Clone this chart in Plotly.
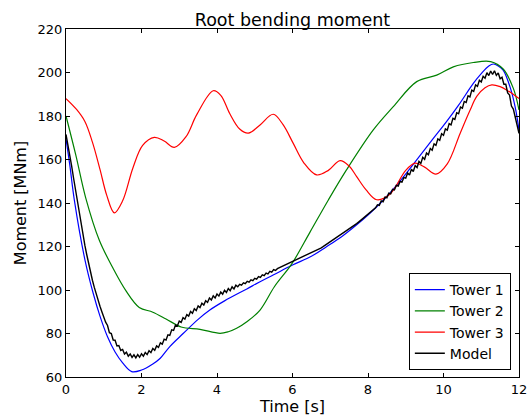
import numpy as np
import plotly.graph_objects as go

# Measured root bending moment of the three towers
t1 = [0.0, 0.1, 0.22, 0.5, 0.72, 0.9, 1.1, 1.3, 1.5, 1.74, 2.0, 2.3, 2.49, 2.75,
      3.11, 3.5, 3.81, 4.2, 4.79, 5.14, 5.5, 6.0, 6.5, 6.9, 7.3, 7.7, 8.0, 8.41, 8.8,
      9.29, 9.7, 10.08, 10.4, 10.79, 11.0, 11.2, 11.32, 11.45, 11.58, 11.76, 11.9, 12.0]
tower1 = [169.5, 157.5, 141.4, 114.0, 98.5, 88.0, 78.5, 71.5, 66.5, 62.5, 63.2, 66.0, 68.5, 74.0,
          80.1, 86.5, 90.8, 95.0, 100.5, 103.8, 107.0, 111.5, 115.5, 119.9, 124.5, 130.0, 134.5, 141.4, 149.0,
          159.8, 169.0, 177.4, 185.0, 195.0, 199.5, 203.0, 203.9, 203.0, 201.1, 193.5, 184.0, 173.6]

t2 = [0.0, 0.26, 0.52, 0.88, 1.24, 1.59, 1.94, 2.3, 2.65, 3.05, 3.55, 4.08, 4.3, 4.52, 4.8,
      5.14, 5.52, 5.98, 6.46, 6.95, 7.43, 8.14, 8.67, 9.29, 9.82, 10.26, 10.79, 11.25, 11.58, 11.85, 12.0]
tower2 = [180.0, 162.0, 142.5, 123.0, 110.2, 99.6, 92.0, 89.8, 86.7, 83.0, 81.9, 80.1, 80.8, 82.4, 85.5,
          90.8, 101.5, 112.0, 126.5, 141.4, 155.2, 173.6, 184.3, 195.8, 198.8, 202.6, 204.6, 205.0, 201.6, 192.7, 182.8]

t3 = [0.0, 0.28, 0.5, 0.7, 0.9, 1.08, 1.28, 1.5, 1.77, 2.03, 2.34, 2.6, 2.87, 3.18, 3.46,
      3.9, 4.1, 4.34, 4.6, 4.83, 5.14, 5.49, 5.75, 6.02, 6.3, 6.64, 6.95, 7.26, 7.5, 7.7,
      7.95, 8.23, 8.58, 9.0, 9.25, 9.5, 9.8, 10.1, 10.44, 10.7, 10.88, 11.1, 11.28, 11.5, 11.67, 12.0]
tower3 = [188.0, 183.0, 177.5, 168.0, 155.5, 143.5, 135.5, 141.0, 156.0, 166.5, 170.2, 168.5, 165.6, 170.5, 180.5,
          191.6, 189.5, 181.0, 174.0, 172.1, 175.9, 180.8, 176.0, 167.4, 158.5, 152.9, 155.0, 159.5, 157.0, 152.1,
          146.0, 141.5, 144.0, 155.0, 158.3, 156.5, 153.3, 158.0, 172.0, 182.5, 189.0, 193.0, 194.3, 193.5, 192.0, 188.0]

# Model output, sampled every 0.05 s (one row per second)
model = [
    171.5, 167.0, 162.0, 157.0, 151.5, 146.0, 140.5, 135.2, 130.0, 125.2, 120.5, 116.2, 112.0, 108.2, 104.5, 101.2, 98.0, 95.2, 92.5, 90.0,
    87.5, 85.2, 83.7, 80.4, 80.0, 77.0, 76.9, 74.3, 74.5, 72.2, 72.7, 70.6, 71.4, 69.6, 70.6, 69.0, 70.2, 68.8, 70.3, 69.1,
    70.7, 69.6, 71.3, 70.3, 72.1, 71.2, 73.1, 72.3, 74.3, 73.6, 75.7, 75.1, 77.4, 77.0, 79.4, 79.1, 81.7, 81.4, 83.9, 83.4,
    85.7, 85.1, 87.3, 86.6, 88.7, 88.0, 90.1, 89.3, 91.4, 90.6, 92.7, 91.9, 93.9, 93.1, 95.1, 94.3, 96.3, 95.4, 97.3, 96.3,
    98.2, 97.2, 99.1, 98.1, 99.9, 98.9, 100.7, 99.7, 101.5, 100.5, 102.2, 101.5, 102.6, 102.2, 103.3, 102.9, 104.0, 103.6, 104.7, 104.3,
    105.4, 105.0, 106.2, 105.8, 107.0, 106.6, 107.8, 107.4, 108.6, 108.2, 109.4, 109.0, 109.8, 110.2, 110.6, 111.0, 111.4, 111.8, 112.2, 112.6,
    113.0, 113.4, 113.8, 114.2, 114.6, 115.0, 115.4, 115.9, 116.3, 116.8, 117.2, 117.6, 118.0, 118.5, 118.9, 119.3, 119.8, 120.4, 120.9, 121.5,
    122.0, 122.6, 123.1, 123.7, 124.2, 124.8, 125.4, 126.0, 126.6, 127.2, 127.8, 128.5, 129.2, 129.8, 130.5, 131.2, 131.9, 132.6, 133.3, 134.0,
    134.7, 135.5, 136.3, 137.0, 137.8, 139.2, 138.9, 141.0, 140.6, 142.7, 142.4, 144.5, 144.2, 146.3, 146.0, 148.1, 147.8, 149.9, 149.6, 151.7,
    151.4, 153.8, 152.8, 155.5, 154.5, 157.2, 156.3, 159.1, 158.2, 161.0, 160.1, 163.0, 162.2, 165.1, 164.3, 167.2, 166.5, 169.5, 168.8, 171.8,
    171.1, 174.1, 173.5, 176.5, 175.9, 178.9, 178.4, 181.5, 181.0, 184.1, 183.6, 186.7, 186.2, 189.3, 188.8, 191.9, 191.3, 194.3, 193.6, 196.4,
    195.6, 198.3, 197.4, 199.9, 198.6, 200.7, 199.1, 200.8, 198.7, 199.8, 197.1, 197.8, 194.6, 194.6, 190.6, 189.6, 184.6, 183.2, 179.0, 175.5,
    172.0,
]
model_t = np.round(np.arange(len(model)) * 0.05, 2)

x_ticks = [0, 2, 4, 6, 8, 10, 12]
y_ticks = [60, 80, 100, 120, 140, 160, 180, 200, 220]

FONT = "DejaVu Sans"

fig = go.Figure()
fig.add_trace(go.Scatter(x=t1, y=tower1, mode="lines", name="Tower 1",
                         line=dict(color="#0000ff", width=1.2, shape="spline")))
fig.add_trace(go.Scatter(x=t2, y=tower2, mode="lines", name="Tower 2",
                         line=dict(color="#008000", width=1.2, shape="spline")))
fig.add_trace(go.Scatter(x=t3, y=tower3, mode="lines", name="Tower 3",
                         line=dict(color="#ff0000", width=1.2, shape="spline")))
fig.add_trace(go.Scatter(x=model_t, y=model, mode="lines", name="Model",
                         line=dict(color="#000000", width=1.4)))

axis_common = dict(
    showgrid=False, zeroline=False, showline=True, linecolor="black", linewidth=1,
    mirror="ticks", ticks="inside", ticklen=4, tickcolor="black", tickwidth=1,
    automargin=False,
    tickfont=dict(family=FONT, size=13, color="black"),
)

fig.update_layout(
    width=530, height=417,
    margin=dict(l=66, r=11, t=29, b=40),
    paper_bgcolor="white", plot_bgcolor="white",
    font=dict(family=FONT, color="black"),
    title=dict(text="Root bending moment", x=0.5, xref="paper", xanchor="center",
               y=1, yref="paper", yanchor="bottom", pad=dict(b=3),
               font=dict(family=FONT, size=17.5, color="black")),
    xaxis=dict(range=[0, 12], tickvals=x_ticks, title=dict(text="Time [s]", standoff=4,
               font=dict(family=FONT, size=16)), **axis_common),
    yaxis=dict(range=[60, 220], tickvals=y_ticks, title=dict(text="Moment [MNm]", standoff=6,
               font=dict(family=FONT, size=16)), **axis_common),
    legend=dict(x=0.982, y=0.02, xanchor="right", yanchor="bottom",
                bgcolor="white", bordercolor="black", borderwidth=1,
                font=dict(family=FONT, size=14, color="black")),
)

fig.write_html("out.html")
